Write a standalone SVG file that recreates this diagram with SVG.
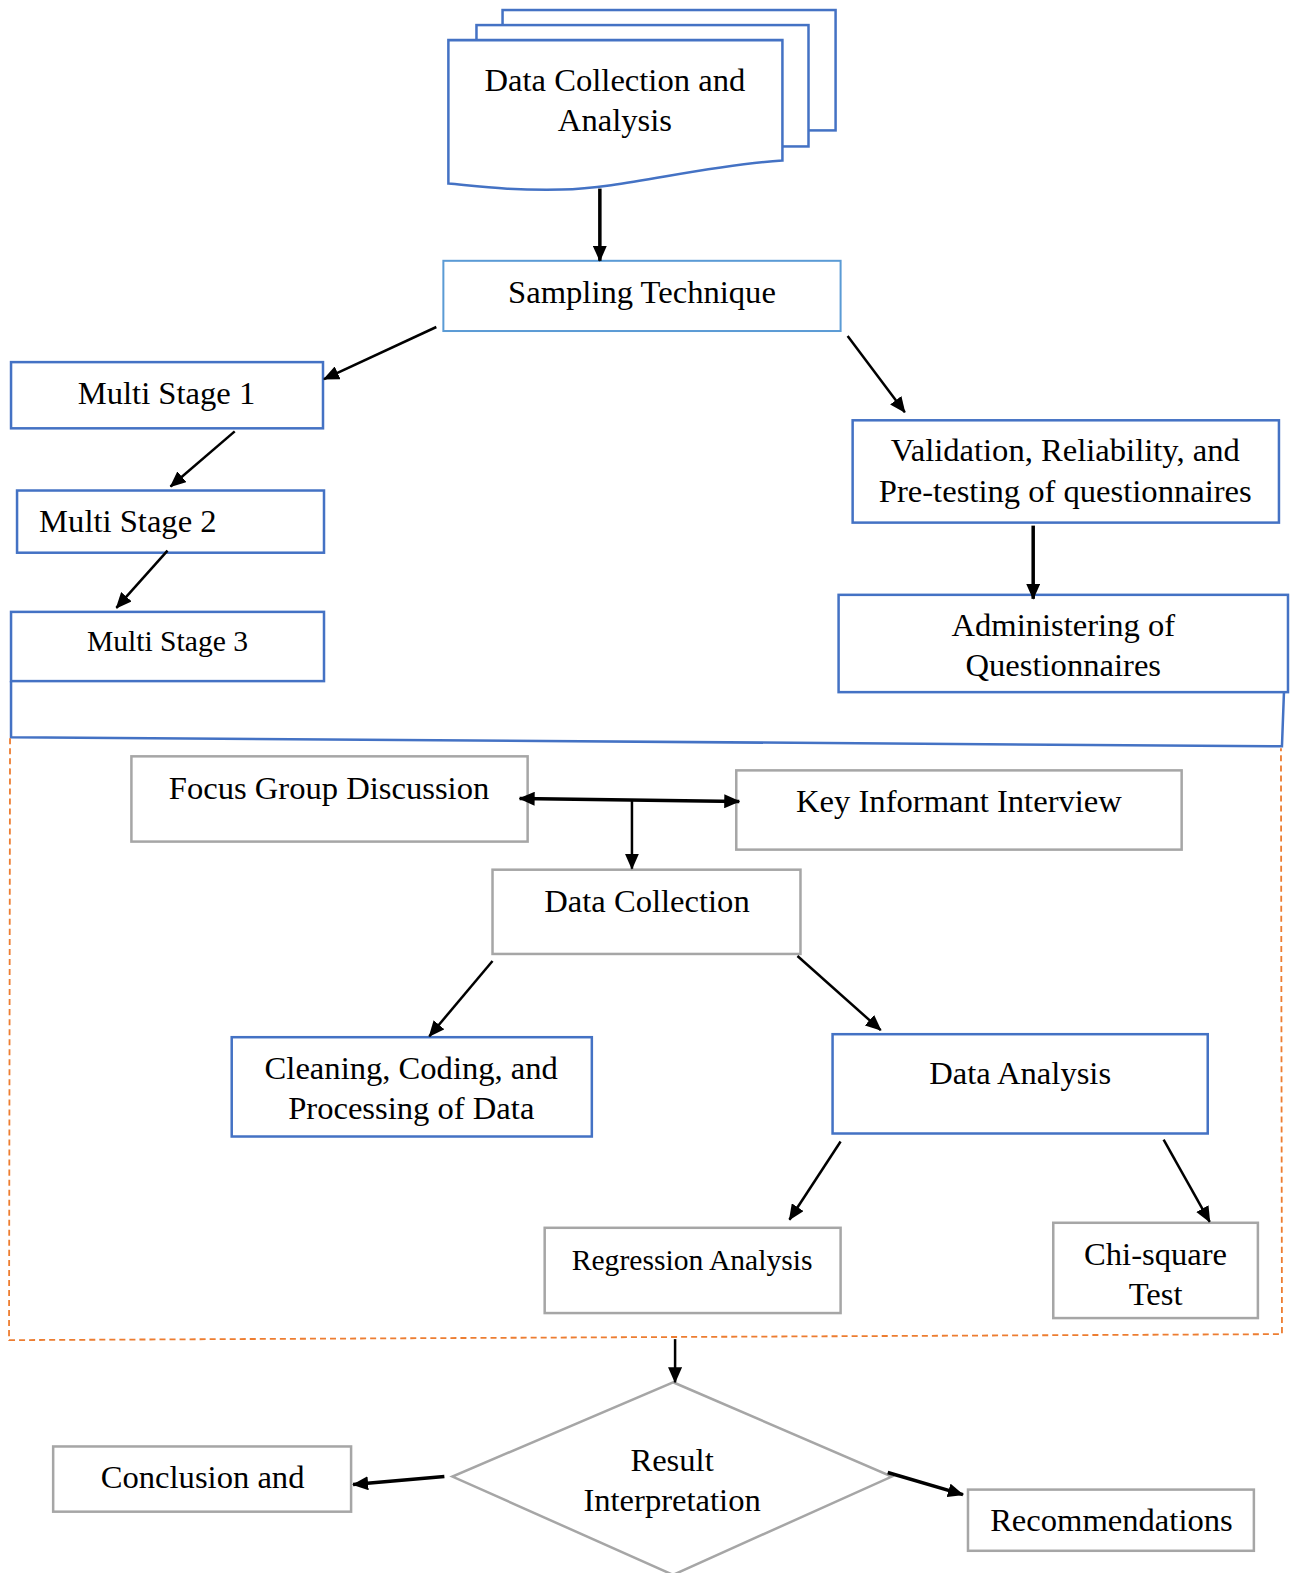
<svg xmlns="http://www.w3.org/2000/svg" width="1290" height="1573" viewBox="0 0 1290 1573">
<defs>
<style>
text{font-family:"Liberation Serif","Times New Roman",serif;font-size:32.5px;fill:#000;text-anchor:middle}
.sm{font-size:29.5px}
.blue{fill:#fff;stroke:#4472c4;stroke-width:2.5}
.lblue{fill:#fff;stroke:#5b9bd5;stroke-width:2}
.gray{fill:#fff;stroke:#a6a6a6;stroke-width:2.5}
.c{fill:none;stroke:#000;stroke-width:2.5}
.ct{fill:none;stroke:#000;stroke-width:3.5}
</style>
<marker id="ah" markerWidth="16" markerHeight="14" refX="15" refY="7" orient="auto" markerUnits="userSpaceOnUse"><path d="M0,0 L16,7 L0,14 z" fill="#000"/></marker>
<marker id="ahs" markerWidth="16" markerHeight="14" refX="1" refY="7" orient="auto" markerUnits="userSpaceOnUse"><path d="M16,0 L0,7 L16,14 z" fill="#000"/></marker>
</defs>
<rect width="1290" height="1573" fill="#fff"/>
<g transform="scale(1.0031)">
<g id="frame">
<path d="M11,679 L11,735 L1278,744 L1280,690" fill="none" stroke="#4472c4" stroke-width="2.5"/>
<path d="M10,736 L9,1336 L1278,1330 L1277,746" fill="none" stroke="#ed7d31" stroke-width="1.8" stroke-dasharray="6,4"/>
</g>

<g id="n-doc">
<rect x="501" y="10" width="332" height="120" class="blue"/>
<rect x="475" y="25" width="331" height="121" class="blue"/>
<path d="M447,40 L780,40 L780,160 C700,165 620,188 560,189 C510,190 480,186 447,183 Z" class="blue"/>
<text x="613" y="91">Data Collection and</text>
<text x="613" y="131">Analysis</text>
</g>

<g id="n-sampling">
<rect x="442" y="260" width="396" height="70" class="lblue"/>
<text x="640" y="302">Sampling Technique</text>
</g>

<g id="n-ms1">
<rect x="11" y="361" width="311" height="66" class="blue"/>
<text x="166" y="403">Multi Stage 1</text>
</g>
<g id="n-ms2">
<rect x="17" y="489" width="306" height="62" class="blue"/>
<text x="39" y="530" style="text-anchor:start">Multi Stage 2</text>
</g>
<g id="n-ms3">
<rect x="11" y="610" width="312" height="69" class="blue"/>
<text x="167" y="649" class="sm">Multi Stage 3</text>
</g>

<g id="n-valid">
<rect x="850" y="419" width="425" height="102" class="blue"/>
<text x="1062" y="460">Validation, Reliability, and</text>
<text x="1062" y="500">Pre-testing of questionnaires</text>
</g>
<g id="n-admin">
<rect x="836" y="593" width="448" height="97" class="blue"/>
<text x="1060" y="634">Administering of</text>
<text x="1060" y="674">Questionnaires</text>
</g>

<g id="n-fgd">
<rect x="131" y="754" width="395" height="85" class="gray"/>
<text x="328" y="797">Focus Group Discussion</text>
</g>
<g id="n-kii">
<rect x="734" y="768" width="444" height="79" class="gray"/>
<text x="956" y="809">Key Informant Interview</text>
</g>
<g id="n-dc">
<rect x="491" y="867" width="307" height="84" class="gray"/>
<text x="645" y="909">Data Collection</text>
</g>
<g id="n-clean">
<rect x="231" y="1034" width="359" height="99" class="blue"/>
<text x="410" y="1076">Cleaning, Coding, and</text>
<text x="410" y="1116">Processing of Data</text>
</g>
<g id="n-da">
<rect x="830" y="1031" width="374" height="99" class="blue"/>
<text x="1017" y="1081">Data Analysis</text>
</g>
<g id="n-reg">
<rect x="543" y="1224" width="295" height="85" class="gray"/>
<text x="690" y="1266" class="sm">Regression Analysis</text>
</g>
<g id="n-chi">
<rect x="1050" y="1219" width="204" height="95" class="gray"/>
<text x="1152" y="1261">Chi-square</text>
<text x="1152" y="1301">Test</text>
</g>

<g id="n-result">
<path d="M671,1378 L889,1472 L671,1570 L451,1472 Z" class="gray"/>
<text x="670" y="1466">Result</text>
<text x="670" y="1506">Interpretation</text>
</g>
<g id="n-concl">
<rect x="53" y="1442" width="297" height="65" class="gray"/>
<text x="202" y="1483">Conclusion and</text>
</g>
<g id="n-rec">
<rect x="965" y="1485" width="285" height="61" class="gray"/>
<text x="1108" y="1526">Recommendations</text>
</g>

<g id="connectors">
<line x1="598" y1="188" x2="598" y2="260" class="ct" marker-end="url(#ah)"/>
<line x1="435" y1="326" x2="323" y2="378" class="c" marker-end="url(#ah)"/>
<line x1="845" y1="335" x2="902" y2="411" class="c" marker-end="url(#ah)"/>
<line x1="234" y1="430" x2="170" y2="485" class="c" marker-end="url(#ah)"/>
<line x1="167" y1="549" x2="116" y2="606" class="c" marker-end="url(#ah)"/>
<line x1="1030" y1="524" x2="1030" y2="597" class="ct" marker-end="url(#ah)"/>
<line x1="518" y1="796" x2="737" y2="799" class="ct" marker-start="url(#ahs)" marker-end="url(#ah)"/>
<line x1="630" y1="798" x2="630" y2="866" class="c" marker-end="url(#ah)"/>
<line x1="491" y1="958" x2="428" y2="1033" class="c" marker-end="url(#ah)"/>
<line x1="795" y1="953" x2="878" y2="1027" class="c" marker-end="url(#ah)"/>
<line x1="838" y1="1138" x2="787" y2="1216" class="c" marker-end="url(#ah)"/>
<line x1="1160" y1="1136" x2="1206" y2="1218" class="c" marker-end="url(#ah)"/>
<line x1="673" y1="1335" x2="673" y2="1378" class="c" marker-end="url(#ah)"/>
<line x1="443" y1="1472" x2="352" y2="1480" class="ct" marker-end="url(#ah)"/>
<line x1="885" y1="1468" x2="960" y2="1490" class="ct" marker-end="url(#ah)"/>
</g>
</g>
</svg>
